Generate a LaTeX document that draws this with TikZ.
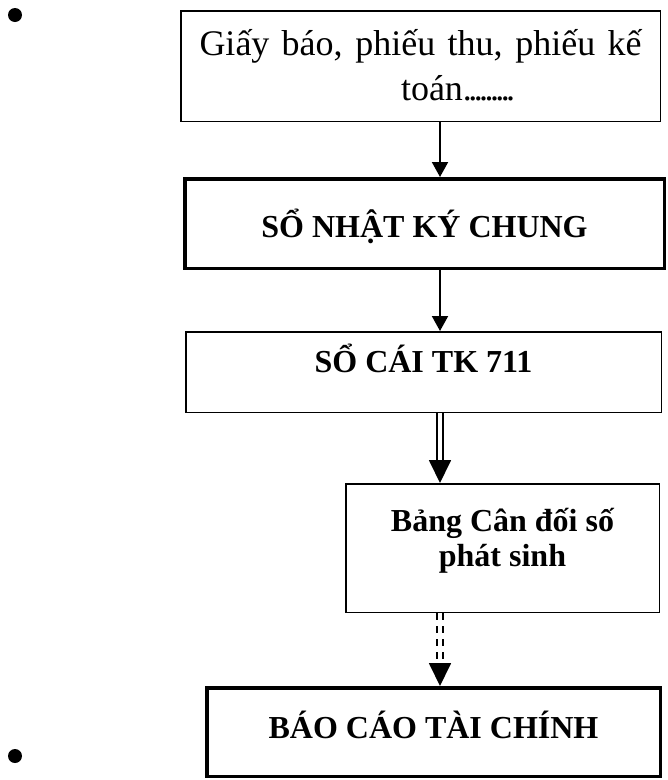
\documentclass[tikz,border=0pt]{standalone}
\usepackage{fontspec}
\setmainfont{Liberation Serif}
\usetikzlibrary{arrows.meta}
\newcommand{\tightdots}{\foreach\k in {1,...,9}{.\kern-3.6pt}}

\begin{document}
\begin{tikzpicture}[x=1pt,y=-1pt,
  box/.style={draw,line width=1.5pt,inner sep=0pt,align=flush center},
  thickbox/.style={box,line width=3.5pt},
  bigtext/.style={font=\fontsize{36}{45}\selectfont},
  boldtext/.style={font=\fontsize{32}{35}\selectfont\bfseries},
  arrow/.style={-{Triangle[length=15pt,width=16pt]},line width=2pt},
  dblarrow/.style={-{Triangle[length=23pt,width=22pt]},line width=1.8pt,double,double distance=4pt},
  dot/.style={circle,fill,inner sep=0pt,minimum size=14pt}
]
\useasboundingbox (0,0) rectangle (668,780);
\node[dot] (dotA) at (15,15) {};
\node[dot] (dotB) at (15,756) {};
\node[box,bigtext,align=flush left,minimum width=479.5pt,minimum height=110.5pt,text width=442pt,text height=30pt,text depth=52pt] (giay) at (420.5,66)
  {\makebox[442pt][s]{Giấy báo, phiếu thu, phiếu kế}\\\hspace*{201.5pt}toán\tightdots};
\node[thickbox,boldtext,minimum width=479.5pt,minimum height=89.5pt,text height=27pt,text depth=0pt] (nkc) at (424.5,223.5) {SỔ NHẬT KÝ CHUNG};
\node[box,boldtext,minimum width=475.5pt,minimum height=80.5pt,text height=24pt,text depth=24pt] (socai) at (423.5,372) {SỔ CÁI TK 711};
\node[box,boldtext,minimum width=313.5pt,minimum height=128.5pt,text width=300pt,text height=26pt,text depth=60pt] (bangcd) at (502.5,548) {Bảng Cân đối số\\phát sinh};
\node[thickbox,boldtext,minimum width=453.5pt,minimum height=88.5pt,text height=27pt,text depth=15pt] (bctc) at (433.5,732) {BÁO CÁO TÀI CHÍNH};
\coordinate (axis) at (440,0);
\draw[arrow] (giay.south -| axis) -- (nkc.north -| axis);
\draw[arrow] (nkc.south -| axis) -- (socai.north -| axis);
\draw[dblarrow] (socai.south -| axis) -- (bangcd.north -| axis);
\draw[dblarrow,dash pattern=on 7pt off 6pt] (bangcd.south -| axis) -- (bctc.north -| axis);
\end{tikzpicture}
\end{document}
